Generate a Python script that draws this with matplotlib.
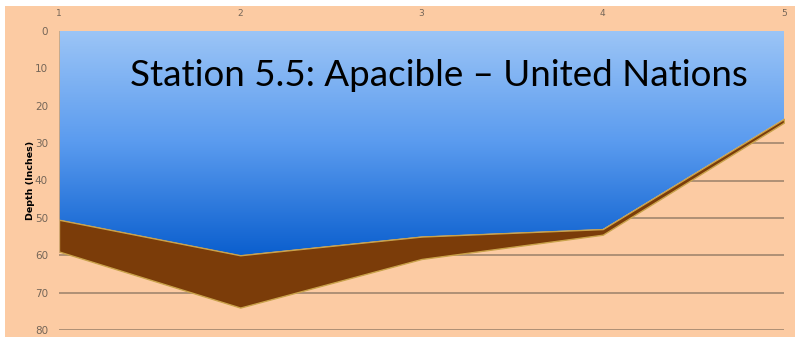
import numpy as np
import matplotlib
matplotlib.use("Agg")
import matplotlib.pyplot as plt
from matplotlib.patches import Rectangle, PathPatch
from matplotlib.colors import LinearSegmentedColormap

# Station cross-section data
stations = [1, 2, 3, 4, 5]
water_depth = [50.5, 60, 55, 53, 23.5]      # bottom of water column (inches)
sediment_depth = [59, 74, 61, 54.5, 24.5]   # bottom of sediment layer (inches)
y_ticks = [0, 10, 20, 30, 40, 50, 60, 70, 80]
title = "Station 5.5: Apacible \u2013 United Nations"
y_label = "Depth (Inches)"

W, H = 795, 337
fig = plt.figure(figsize=(W / 100, H / 100), dpi=100, facecolor="white")

# peach backdrop
fig.patches.append(Rectangle((5 / W, 0), 1 - 5 / W, 1 - 6 / H, transform=fig.transFigure,
                             facecolor="#fccba3", edgecolor="none", zorder=-10))

ax = fig.add_axes([59 / W, 7 / H, (784 - 59) / W, (330 - 31) / H])
ax.set_facecolor("none")
ax.set_zorder(1)

# horizontal gridlines
for t in y_ticks:
    ax.axhline(t, color="#a88b72", lw=1.3, zorder=1)

# water column with vertical gradient
water = ax.fill_between(stations, 0, water_depth, facecolor="none", edgecolor="none", zorder=2)
cmap = LinearSegmentedColormap.from_list("water", ["#9cc5f6", "#5a9bef", "#0b5fce"])
grad = np.linspace(0, 1, 256).reshape(-1, 1)
img = ax.imshow(grad, cmap=cmap, aspect="auto", extent=[stations[0], stations[-1], max(water_depth), 0],
                zorder=2, interpolation="bicubic")
path = water.get_paths()[0]
clip = PathPatch(path, transform=ax.transData, facecolor="none", edgecolor="none")
ax.add_patch(clip)
img.set_clip_path(clip)
ax.set_xlim(stations[0], stations[-1])
ax.set_ylim(80, 0)

# sediment layer
ax.fill_between(stations, water_depth, sediment_depth, facecolor="#7b3c09",
                edgecolor="#c9a24a", lw=1.0, zorder=3)
ax.plot([stations[0]] * 2, [0, sediment_depth[0]], color="#d1a77a", lw=1.2, zorder=3)

for s in ax.spines.values():
    s.set_visible(False)

ax.set_yticks(y_ticks)
ax.set_yticklabels([str(t) for t in y_ticks], fontsize=7.5, color="#756658", family="DejaVu Sans")
ax.tick_params(axis="y", length=0, pad=8)
ax.set_xticks(stations)
ax.xaxis.tick_top()
ax.set_xticklabels([str(s) for s in stations], fontsize=6.5, color="#756658")
ax.tick_params(axis="x", length=0, pad=9)

ax.set_ylabel(y_label, fontsize=6.8, fontweight="bold", color="black", labelpad=0)

fig.text(130 / W, 1 - 75 / H, title, fontsize=26.5, family="Lato", color="black",
         ha="left", va="center", zorder=5)

fig.savefig("out.png", dpi=100, facecolor="white")
